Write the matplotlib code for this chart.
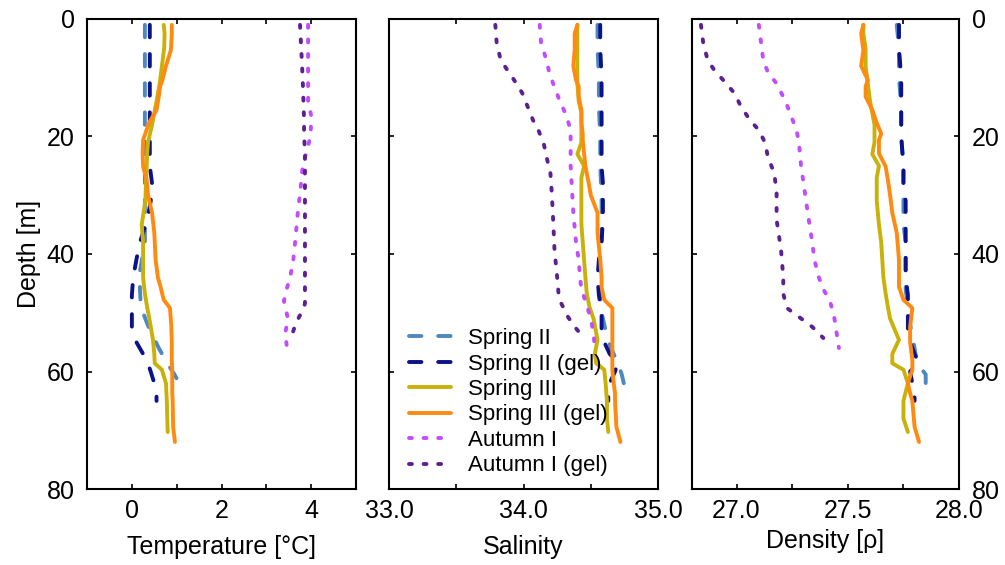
import matplotlib
matplotlib.use("Agg")
import matplotlib.pyplot as plt
from matplotlib.ticker import FixedLocator, FixedFormatter

plt.rcParams["font.family"] = ["Liberation Sans", "DejaVu Sans"]

# ---- Spring II (CTD) ----
spring2_depth = [1, 5, 10, 15, 20, 25, 30, 35, 38, 43, 46, 49, 52, 54, 56, 58.5, 60.5, 62.5, 63]
spring2_temp = [0.29, 0.29, 0.29, 0.29, 0.29, 0.29, 0.29, 0.29, 0.29, 0.18, 0.18, 0.20, 0.35, 0.47, 0.60, 0.78, 0.95, 1.09, 1.10]
spring2_sal = [34.55, 34.55, 34.56, 34.56, 34.57, 34.57, 34.58, 34.58, 34.58, 34.56, 34.57, 34.57, 34.60, 34.62, 34.65, 34.70, 34.73, 34.75, 34.76]
spring2_dens = [27.72, 27.73, 27.73, 27.74, 27.74, 27.75, 27.75, 27.75, 27.76, 27.76, 27.76, 27.77, 27.78, 27.79, 27.80, 27.81, 27.85, 27.85, 27.85]

# ---- Spring II (gel) ----
spring2g_depth = [1, 5, 10, 15, 20, 25, 28, 31, 34, 38, 41, 44, 47, 50, 53, 55, 57, 58.5, 60, 62, 64, 65]
spring2g_temp = [0.40, 0.40, 0.40, 0.40, 0.40, 0.40, 0.45, 0.42, 0.35, 0.18, 0.10, 0.03, 0.00, 0.00, 0.00, 0.10, 0.25, 0.35, 0.42, 0.50, 0.55, 0.55]
spring2g_sal = [34.57, 34.57, 34.58, 34.58, 34.58, 34.58, 34.59, 34.59, 34.59, 34.58, 34.56, 34.55, 34.56, 34.58, 34.58, 34.60, 34.64, 34.70, 34.68, 34.64, 34.63, 34.63]
spring2g_dens = [27.73, 27.73, 27.74, 27.74, 27.74, 27.75, 27.75, 27.76, 27.76, 27.76, 27.76, 27.76, 27.77, 27.77, 27.77, 27.78, 27.80, 27.82, 27.78, 27.79, 27.80, 27.80]

# ---- Spring III (CTD) ----
spring3_depth = [1, 2.5, 5, 8, 11, 14, 16, 18, 21, 23, 25, 27, 31, 35, 38, 41, 44, 46.7, 49, 51, 54.6, 57, 58.6, 59.7, 62, 65, 68, 70.3]
spring3_temp = [0.71, 0.73, 0.72, 0.67, 0.62, 0.55, 0.50, 0.45, 0.36, 0.34, 0.33, 0.32, 0.30, 0.22, 0.25, 0.25, 0.25, 0.29, 0.34, 0.39, 0.47, 0.50, 0.51, 0.67, 0.76, 0.78, 0.79, 0.80]
spring3_sal = [34.40, 34.40, 34.40, 34.40, 34.40, 34.41, 34.43, 34.43, 34.43, 34.40, 34.45, 34.43, 34.43, 34.43, 34.44, 34.45, 34.46, 34.47, 34.49, 34.52, 34.55, 34.53, 34.54, 34.60, 34.61, 34.62, 34.62, 34.63]
spring3_dens = [27.57, 27.57, 27.58, 27.58, 27.59, 27.60, 27.61, 27.62, 27.62, 27.61, 27.64, 27.63, 27.63, 27.64, 27.65, 27.655, 27.66, 27.67, 27.68, 27.69, 27.73, 27.70, 27.70, 27.75, 27.77, 27.75, 27.75, 27.77]

# ---- Spring III (gel) ----
spring3g_depth = [1, 2.5, 5.3, 8, 10.4, 11.5, 13.2, 15.5, 17.7, 19.5, 20.6, 22.9, 25.1, 27.4, 30, 33, 36.4, 41, 44, 45.6, 47.8, 49.2, 52.4, 55, 58, 59.7, 62, 63.7, 65, 69.4, 72]
spring3g_temp = [0.89, 0.89, 0.87, 0.76, 0.68, 0.63, 0.60, 0.55, 0.38, 0.30, 0.25, 0.24, 0.25, 0.33, 0.36, 0.45, 0.50, 0.53, 0.58, 0.64, 0.71, 0.85, 0.88, 0.89, 0.89, 0.90, 0.90, 0.90, 0.91, 0.92, 0.96]
spring3g_sal = [34.40, 34.38, 34.38, 34.37, 34.39, 34.41, 34.41, 34.43, 34.43, 34.44, 34.44, 34.45, 34.46, 34.48, 34.50, 34.55, 34.55, 34.57, 34.58, 34.58, 34.60, 34.66, 34.66, 34.66, 34.66, 34.66, 34.67, 34.68, 34.68, 34.69, 34.72]
spring3g_dens = [27.57, 27.56, 27.57, 27.56, 27.59, 27.58, 27.58, 27.61, 27.63, 27.65, 27.64, 27.64, 27.67, 27.68, 27.69, 27.70, 27.72, 27.73, 27.73, 27.73, 27.75, 27.79, 27.78, 27.78, 27.79, 27.79, 27.77, 27.78, 27.79, 27.80, 27.82]

# ---- Autumn I (CTD) ----
autumn1_depth = [1, 4, 7, 9, 11, 14, 16.5, 19, 21, 25, 29, 33, 38, 41, 44, 46, 48, 51, 53.5, 56]
autumn1_temp = [3.93, 3.93, 3.93, 3.93, 3.93, 3.93, 4.00, 3.99, 3.95, 3.81, 3.76, 3.70, 3.64, 3.60, 3.53, 3.45, 3.39, 3.48, 3.42, 3.46]
autumn1_sal = [34.12, 34.13, 34.17, 34.19, 34.22, 34.27, 34.32, 34.35, 34.35, 34.35, 34.36, 34.37, 34.39, 34.41, 34.42, 34.43, 34.46, 34.50, 34.52, 34.53]
autumn1_dens = [27.10, 27.11, 27.12, 27.14, 27.18, 27.22, 27.245, 27.27, 27.28, 27.29, 27.305, 27.32, 27.34, 27.35, 27.37, 27.39, 27.42, 27.44, 27.45, 27.46]

# ---- Autumn I (gel) ----
autumn1g_depth = [1, 4, 7, 8.7, 10.4, 12.6, 14.9, 17.2, 18.9, 21.2, 23.4, 26.3, 29.7, 34.2, 39.3, 44, 46.7, 48.4, 49.3, 50.7, 52.4, 54.3]
autumn1g_temp = [3.75, 3.77, 3.79, 3.80, 3.81, 3.82, 3.83, 3.84, 3.84, 3.85, 3.86, 3.86, 3.86, 3.86, 3.86, 3.86, 3.86, 3.86, 3.83, 3.73, 3.63, 3.55]
autumn1g_sal = [33.79, 33.80, 33.83, 33.88, 33.93, 33.99, 34.03, 34.07, 34.11, 34.15, 34.17, 34.20, 34.21, 34.22, 34.23, 34.25, 34.26, 34.28, 34.30, 34.33, 34.38, 34.45]
autumn1g_dens = [26.84, 26.85, 26.87, 26.90, 26.94, 26.99, 27.02, 27.06, 27.10, 27.13, 27.14, 27.17, 27.18, 27.18, 27.20, 27.21, 27.21, 27.22, 27.23, 27.28, 27.34, 27.39]

series_labels = ["Spring II", "Spring II (gel)", "Spring III", "Spring III (gel)", "Autumn I", "Autumn I (gel)"]
series_colors = ["#4d88c0", "#0b128a", "#c9b10a", "#ff8a12", "#c24cff", "#5b2190"]

temp_ticks = [-1, 0, 1, 2, 3, 4, 5]
temp_ticklabels = ["", "0", "", "2", "", "4", ""]
sal_ticks = [33.0, 33.5, 34.0, 34.5, 35.0]
sal_ticklabels = ["33.0", "", "34.0", "", "35.0"]
dens_ticks = [27.0, 27.25, 27.5, 27.75, 28.0]
dens_ticklabels = ["27.0", "", "27.5", "", "28.0"]
depth_ticks = [0, 20, 40, 60, 80]
depth_ticklabels = ["0", "20", "40", "60", "80"]

depths = [spring2_depth, spring2g_depth, spring3_depth, spring3g_depth, autumn1_depth, autumn1g_depth]
temps = [spring2_temp, spring2g_temp, spring3_temp, spring3g_temp, autumn1_temp, autumn1g_temp]
sals = [spring2_sal, spring2g_sal, spring3_sal, spring3g_sal, autumn1_sal, autumn1g_sal]
denss = [spring2_dens, spring2g_dens, spring3_dens, spring3g_dens, autumn1_dens, autumn1g_dens]

dashed = (0, (3.2, 4.3))
dotted = (0, (0.75, 3.0))
styles = [dashed, dashed, "-", "-", dotted, dotted]

fig = plt.figure(figsize=(10.05, 5.65), dpi=100)
bottom, height = 0.1345, 0.8319
ax_t = fig.add_axes([0.0866, bottom, 0.2677, height])
ax_s = fig.add_axes([0.3871, bottom, 0.2677, height])
ax_d = fig.add_axes([0.6886, bottom, 0.2657, height])

FS = 18

def draw(ax, values):
    for d, v, c, ls, lab in zip(depths, values, series_colors, styles, series_labels):
        ax.plot(v, d, color=c, linestyle=ls, lw=2.8, label=lab,
                solid_capstyle="round", dash_capstyle="round", solid_joinstyle="round")
    ax.set_ylim(80, 0)
    ax.yaxis.set_major_locator(FixedLocator(depth_ticks))
    ax.yaxis.set_major_formatter(FixedFormatter(depth_ticklabels))
    for s in ax.spines.values():
        s.set_linewidth(1.5)
    ax.tick_params(direction="in", length=3.5, width=1.2, top=True, right=True,
                   labelsize=FS)
    ax.tick_params(axis="y", pad=9)
    ax.tick_params(axis="x", pad=7)

draw(ax_t, temps)
ax_t.set_xlim(-1, 5)
ax_t.xaxis.set_major_locator(FixedLocator(temp_ticks))
ax_t.xaxis.set_major_formatter(FixedFormatter(temp_ticklabels))
ax_t.set_xlabel("Temperature [°C]", fontsize=FS, labelpad=9)
ax_t.set_ylabel("Depth [m]", fontsize=FS, labelpad=4)

draw(ax_s, sals)
ax_s.set_xlim(33.0, 35.0)
ax_s.xaxis.set_major_locator(FixedLocator(sal_ticks))
ax_s.xaxis.set_major_formatter(FixedFormatter(sal_ticklabels))
ax_s.tick_params(labelleft=False)
ax_s.set_xlabel("Salinity", fontsize=FS, labelpad=9)
ax_s.legend(loc="lower left", frameon=False, fontsize=16, handlelength=1.9,
            handletextpad=0.75, labelspacing=0.2, borderaxespad=0.0,
            bbox_to_anchor=(0.04, 0.008))

draw(ax_d, denss)
ax_d.set_xlim(26.8, 28.0)
ax_d.xaxis.set_major_locator(FixedLocator(dens_ticks))
ax_d.xaxis.set_major_formatter(FixedFormatter(dens_ticklabels))
ax_d.tick_params(labelleft=False, labelright=True)
ax_d.set_xlabel("Density [ρ]", fontsize=FS, labelpad=4.5)

fig.savefig("out.png", dpi=100)
